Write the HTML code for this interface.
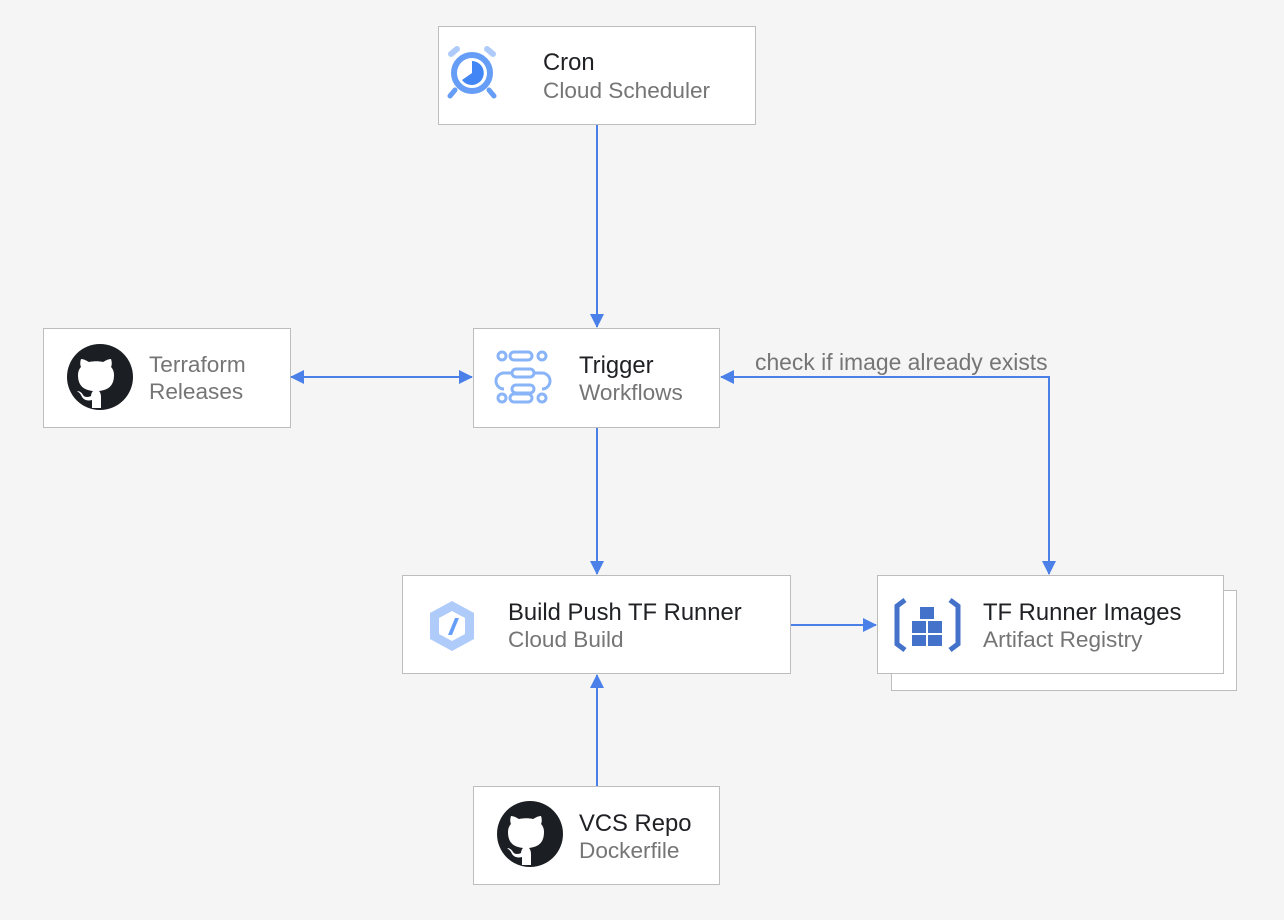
<!DOCTYPE html>
<html><head><meta charset="utf-8"><style>
body{margin:0;width:1284px;height:920px;background:#f5f5f5;position:relative;overflow:hidden;font-family:"Liberation Sans",Arial,sans-serif}
.b{position:absolute;background:#fff;border:1px solid #bdbdbd;box-sizing:border-box}
.t{position:absolute;font-size:23.8px;color:#202124;white-space:nowrap}
.s{position:absolute;font-size:22.6px;color:#757575;white-space:nowrap}
svg{position:absolute;left:0;top:0}
</style></head><body>
<div class="b" style="left:891px;top:590px;width:346px;height:101px"></div>
<div class="b" style="left:438px;top:26px;width:318px;height:99px"></div>
<div class="b" style="left:43px;top:328px;width:248px;height:100px"></div>
<div class="b" style="left:473px;top:328px;width:247px;height:100px"></div>
<div class="b" style="left:402px;top:575px;width:389px;height:99px"></div>
<div class="b" style="left:877px;top:575px;width:347px;height:99px"></div>
<div class="b" style="left:473px;top:786px;width:247px;height:99px"></div>

<div class="t" style="left:543px;top:49px">Cron</div><div class="s" style="left:543px;top:78px">Cloud Scheduler</div>
<div class="s" style="left:149px;top:352px">Terraform</div><div class="s" style="left:149px;top:379px">Releases</div>
<div class="t" style="left:579px;top:352px">Trigger</div><div class="s" style="left:579px;top:380px">Workflows</div>
<div class="t" style="left:508px;top:599px">Build Push TF Runner</div><div class="s" style="left:508px;top:627px">Cloud Build</div>
<div class="t" style="left:983px;top:599px">TF Runner Images</div><div class="s" style="left:983px;top:627px">Artifact Registry</div>
<div class="t" style="left:579px;top:810px">VCS Repo</div><div class="s" style="left:579px;top:838px">Dockerfile</div>
<div class="s" style="left:755px;top:349px;font-size:22.9px">check if image already exists</div>

<svg width="1284" height="920">
<defs>
<marker id="a2" markerWidth="14" markerHeight="14" refX="13" refY="7" orient="auto-start-reverse" markerUnits="userSpaceOnUse"><path d="M0,0 L14,7 L0,14z" fill="#4a80e8"/></marker></defs>
<g stroke="#4a80e8" stroke-width="2" fill="none">
<path d="M597,125 V327" marker-end="url(#a2)"/>
<path d="M291,377 H472" marker-start="url(#a2)" marker-end="url(#a2)"/>
<path d="M597,428 V574" marker-end="url(#a2)"/>
<path d="M721,377 H1049 V574" marker-start="url(#a2)" marker-end="url(#a2)"/>
<path d="M791,625 H876" marker-end="url(#a2)"/>
<path d="M597,786 V675" marker-end="url(#a2)"/>
</g>
<g>
<path d="M451,54 l6,-5 M493,54 l-6,-5" stroke="#aecbfa" stroke-width="6" stroke-linecap="round"/>
<path d="M455,90 l-5,6 M489,90 l5,6" stroke="#669df6" stroke-width="5" stroke-linecap="round"/>
<circle cx="472" cy="73" r="18" fill="none" stroke="#669df6" stroke-width="6"/>
<path d="M472,61 A12,12 0 1 1 462,80 L472,73z" fill="#4285f4"/>
</g>
<g id="gh"><circle cx="100" cy="377" r="33" fill="#1b1f23"/>
<path d="M92,408 v-8 c-8,2 -10,-3 -11,-5 c-1,-2 -3,-3 -4,-4 c3,0 5,2 6,4 c2,3 6,2 8,1 c0,-2 1,-4 2,-5 c-8,-1 -15,-4 -15,-16 c0,-3 1,-6 3,-8 c-1,-2 -1,-5 0,-8 c3,0 6,2 8,3 c5,-1 10,-1 14,0 c2,-1 5,-3 8,-3 c1,3 1,6 0,8 c2,2 3,5 3,8 c0,12 -7,15 -15,16 c1,1 2,3 2,6 v11z" fill="#fff"/></g>
<use href="#gh" x="430" y="457"/>
<g stroke="#8ab4f8" stroke-width="3" fill="none">
<circle cx="502" cy="356" r="4"/><rect x="510" y="352" width="22" height="8" rx="4"/><circle cx="542" cy="356" r="4"/>
<rect x="512" y="369" width="22" height="8" rx="4"/><path d="M534,373 h8 a8,8 0 0 1 0,16"/><path d="M512,373 h-8 a8,8 0 0 0 0,16"/>
<rect x="512" y="385" width="22" height="8" rx="4"/>
<circle cx="502" cy="398" r="4"/><rect x="510" y="394" width="22" height="8" rx="4"/><circle cx="542" cy="398" r="4"/>
</g>
<g><path d="M452,601 l22,12 v26 l-22,12 l-22,-12 v-26z" fill="#aecbfa"/>
<path d="M452,611 l13,7 v16 l-13,7 l-13,-7 v-16z" fill="#fff"/>
<path d="M455,618 l-7,17 h4 l7,-17z" fill="#669df6"/></g>
<g><path d="M905,600 l-8,6 v38 l8,6" stroke="#4472ca" stroke-width="5" fill="none"/>
<path d="M950,600 l8,6 v38 l-8,6" stroke="#4472ca" stroke-width="5" fill="none"/>
<g fill="#4472ca"><rect x="920" y="607" width="14" height="12"/><rect x="912" y="621" width="14" height="12"/><rect x="928" y="621" width="14" height="12"/><rect x="912" y="635" width="14" height="11"/><rect x="928" y="635" width="14" height="11"/></g></g>
</svg>
</body></html>
